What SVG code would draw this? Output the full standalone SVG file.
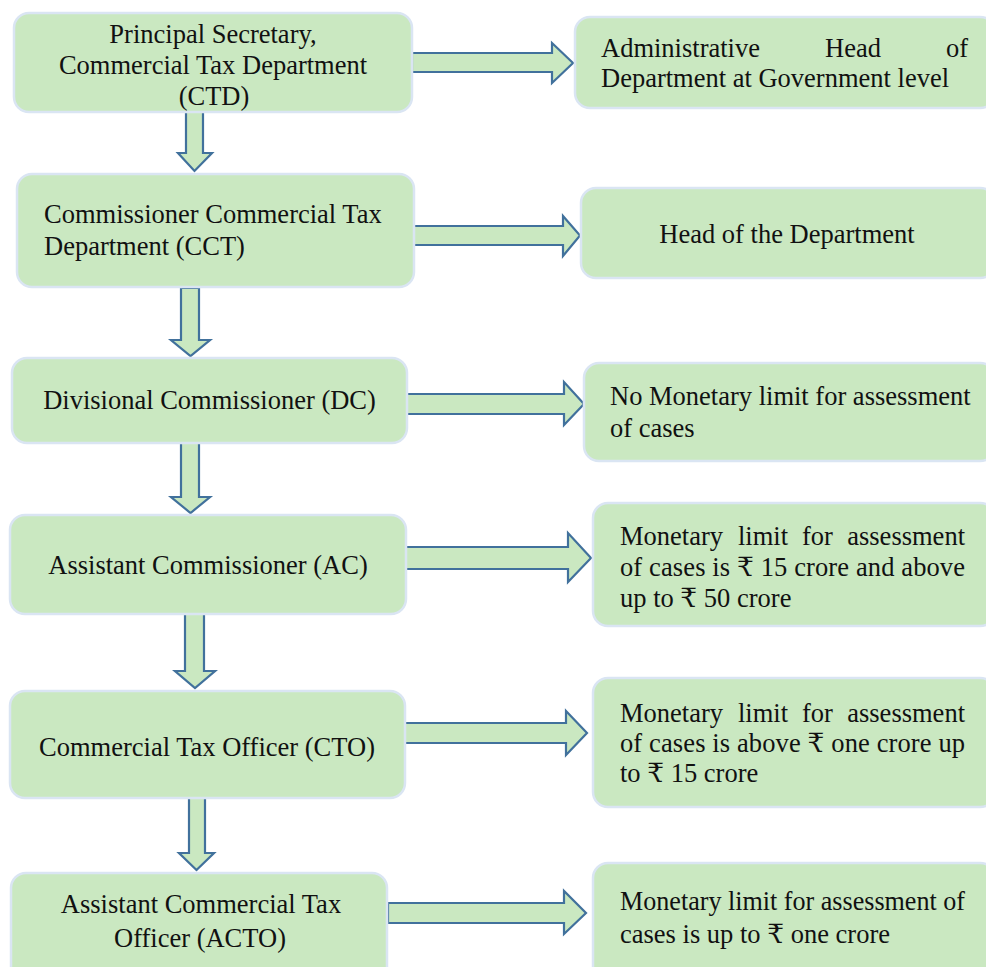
<svg xmlns="http://www.w3.org/2000/svg" width="986" height="967" viewBox="0 0 986 967">
<style>
.box{fill:#cae8c1;stroke:#dae5f3;stroke-width:2.5}
.arr{fill:#cae8c1;stroke:#41719c;stroke-width:2.2;stroke-linejoin:miter}
text{font-family:"Liberation Serif","DejaVu Serif","Noto Sans",serif;font-size:26.5px;fill:#111}
.c{text-anchor:middle}
.e{text-anchor:end}
</style>
<rect width="986" height="967" fill="#ffffff"/>
<g id="connectors">
<path class="arr" d="M412,53 H552 V43 L573,63 L552,83 V72 H412 Z"/>
<path class="arr" d="M413,226 H563 V216 L580,235.5 L563,256 V245 H413 Z"/>
<path class="arr" d="M404,394 H564 V382 L584,404 L564,425 V414 H404 Z"/>
<path class="arr" d="M404,547 H568 V533 L591,558 L568,582 V569 H404 Z"/>
<path class="arr" d="M404,723 H566 V711 L587,733 L566,755 V743 H404 Z"/>
<path class="arr" d="M388,903 H564 V891 L586,913 L564,934 V923 H388 Z"/>
<path class="arr" d="M186,112 V153 H178 L194.5,171 L212,153 H203 V112 Z"/>
<path class="arr" d="M181,288 V340 H171 L190.5,356 L210,340 H199 V288 Z"/>
<path class="arr" d="M181,443 V497 H171 L190.5,513 L210,497 H199 V443 Z"/>
<path class="arr" d="M185,614 V671 H175 L195,688 L215,671 H204 V614 Z"/>
<path class="arr" d="M189,798 V853 H179 L196.5,870 L214,853 H205 V798 Z"/>
</g>
<g id="ctd">
<rect class="box" x="14" y="13" width="398" height="99" rx="15"/>
<text class="c" x="213" y="43">Principal Secretary,</text>
<text class="c" x="213" y="74">Commercial Tax Department</text>
<text class="c" x="214" y="105">(CTD)</text>
</g>
<g id="ctd-role">
<rect class="box" x="575" y="17" width="420" height="91" rx="15"/>
<text x="601" y="57">Administrative</text>
<text x="825" y="57">Head</text>
<text class="e" x="968" y="57">of</text>
<text x="601" y="87">Department at Government level</text>
</g>
<g id="cct">
<rect class="box" x="17" y="174" width="397" height="113" rx="15"/>
<text x="44" y="223">Commissioner Commercial Tax</text>
<text x="44" y="255">Department (CCT)</text>
</g>
<g id="cct-role">
<rect class="box" x="581" y="188" width="414" height="90" rx="15"/>
<text class="c" x="787" y="243">Head of the Department</text>
</g>
<g id="dc">
<rect class="box" x="12" y="358" width="395" height="85" rx="15"/>
<text class="c" x="209.5" y="409">Divisional Commissioner (DC)</text>
</g>
<g id="dc-role">
<rect class="box" x="584" y="363" width="411" height="98" rx="15"/>
<text x="610" y="405">No Monetary limit for assessment</text>
<text x="610" y="437">of cases</text>
</g>
<g id="ac">
<rect class="box" x="10" y="515" width="396" height="99" rx="15"/>
<text class="c" x="208" y="574">Assistant Commissioner (AC)</text>
</g>
<g id="ac-role">
<rect class="box" x="593" y="503" width="402" height="123" rx="15"/>
<text x="620" y="545">Monetary</text>
<text x="738" y="545">limit</text>
<text x="802" y="545">for</text>
<text class="e" x="965" y="545">assessment</text>
<text x="620" y="576" textLength="345" lengthAdjust="spacing">of cases is ₹ 15 crore and above</text>
<text x="620" y="607">up to ₹ 50 crore</text>
</g>
<g id="cto">
<rect class="box" x="10" y="691" width="395" height="107" rx="15"/>
<text class="c" x="207" y="756">Commercial Tax Officer (CTO)</text>
</g>
<g id="cto-role">
<rect class="box" x="593" y="678" width="402" height="129" rx="15"/>
<text x="620" y="722">Monetary</text>
<text x="738" y="722">limit</text>
<text x="802" y="722">for</text>
<text class="e" x="965" y="722">assessment</text>
<text x="620" y="752" textLength="345" lengthAdjust="spacing">of cases is above ₹ one crore up</text>
<text x="620" y="782">to ₹ 15 crore</text>
</g>
<g id="acto">
<rect class="box" x="11" y="873" width="376" height="110" rx="15"/>
<text class="c" x="201" y="913">Assistant Commercial Tax</text>
<text class="c" x="200" y="947">Officer (ACTO)</text>
</g>
<g id="acto-role">
<rect class="box" x="593" y="863" width="402" height="120" rx="15"/>
<text x="620" y="910" textLength="345" lengthAdjust="spacingAndGlyphs">Monetary limit for assessment of</text>
<text x="620" y="943">cases is up to ₹ one crore</text>
</g>
</svg>
